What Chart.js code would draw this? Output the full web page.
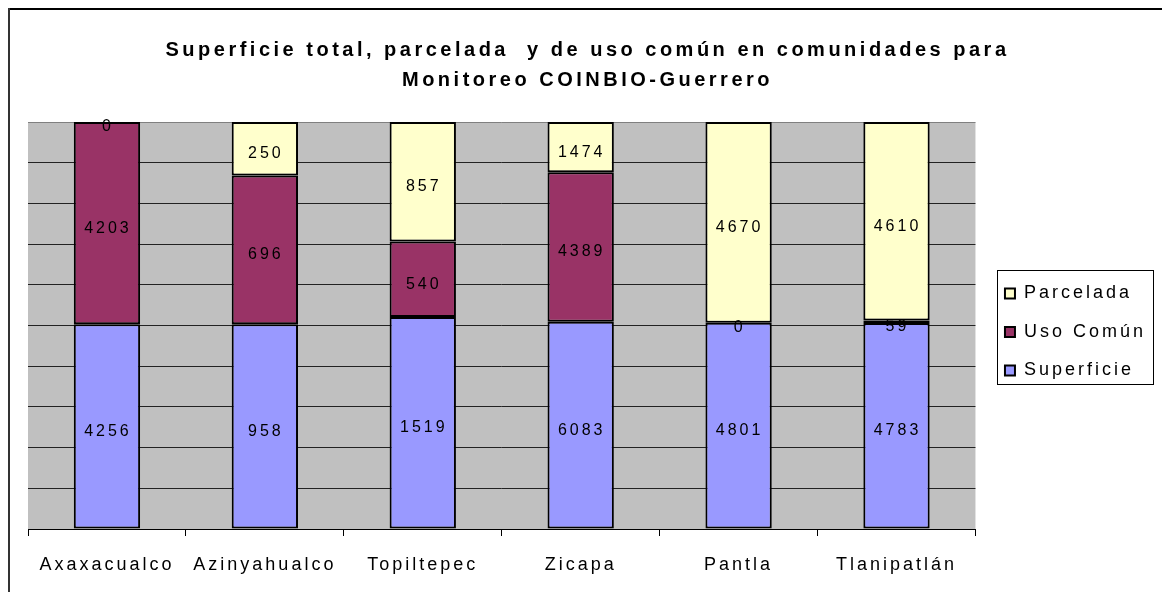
<!DOCTYPE html>
<html>
<head>
<meta charset="utf-8">
<script src="https://cdn.jsdelivr.net/npm/chart.js@4.4.1/dist/chart.umd.min.js"></script>
<style>
  html, body { margin: 0; padding: 0; background: #fff; }
  #wrap { width: 1162px; height: 592px; position: relative; }
</style>
</head>
<body>
<div id="wrap"><canvas id="chart" width="1162" height="592"></canvas></div>
<script>
const comunidades = ['Axaxacualco', 'Azinyahualco', 'Topiltepec', 'Zicapa', 'Pantla', 'Tlanipatlán'];
const superficie = [4256, 958, 1519, 6083, 4801, 4783];
const usoComun = [4203, 696, 540, 4389, 0, 59];
const parcelada = [0, 250, 857, 1474, 4670, 4610];

// 100% apilado: cada columna se reparte sobre su total
const totales = comunidades.map((c, i) => superficie[i] + usoComun[i] + parcelada[i]);
const pct = arr => arr.map((v, i) => v / totales[i] * 100);

const FONT = "'Liberation Sans', Arial, sans-serif";

const spacing = {
  id: 'spacing',
  beforeInit(chart) { chart.ctx.letterSpacing = '3px'; },
  beforeLayout(chart) { chart.ctx.letterSpacing = '3px'; },
  afterLayout(chart) {
    // leyenda un poco más abajo y a la derecha, como en el original
    const lg = chart.legend;
    lg.top += 31; lg.bottom += 31;
    lg.left += 9; lg.right += 9;
    // título algo más espaciado
    const tb = chart.titleBlock;
    if (tb && !tb._wrapped) {
      const draw = tb.draw.bind(tb);
      tb.draw = function () {
        const ctx = chart.ctx;
        ctx.letterSpacing = '3.5px';
        draw();
        ctx.letterSpacing = '3px';
      };
      tb._wrapped = true;
    }
  },
  beforeDraw(chart) {
    const ctx = chart.ctx;
    ctx.letterSpacing = '3px';
    // marco exterior
    ctx.save();
    ctx.fillStyle = '#000';
    ctx.fillRect(8, 8, chart.width, 2);
    ctx.fillStyle = '#333';
    ctx.fillRect(8, 8, 2, chart.height);
    // fondo gris del área de trazado
    const a = chart.chartArea;
    ctx.fillStyle = '#C0C0C0';
    ctx.fillRect(a.left, a.top, a.right - a.left, a.bottom - a.top);
    ctx.restore();
  },
  afterDraw(chart) {
    const lg = chart.legend;
    if (!lg || !lg.legendHitBoxes) return;
    const hb = lg.legendHitBoxes;
    let x0 = Infinity, y0 = Infinity, x1 = -Infinity, y1 = -Infinity;
    hb.forEach(b => {
      x0 = Math.min(x0, b.left); y0 = Math.min(y0, b.top);
      x1 = Math.max(x1, b.left + b.width); y1 = Math.max(y1, b.top + b.height);
    });
    const ctx = chart.ctx;
    ctx.save();
    ctx.strokeStyle = '#000';
    ctx.lineWidth = 1;
    ctx.strokeRect(Math.round(x0 - 8) + 0.5, Math.round(y0 - 15) + 0.5, Math.round(x1 - x0 + 15), Math.round(y1 - y0 + 19));
    ctx.restore();
  }
};

const etiquetas = {
  id: 'etiquetas',
  afterDatasetsDraw(chart) {
    const ctx = chart.ctx;
    const raw = [superficie, usoComun, parcelada];
    ctx.save();
    ctx.font = '16px ' + FONT;
    ctx.fillStyle = '#000';
    ctx.textAlign = 'center';
    ctx.textBaseline = 'middle';
    chart.data.datasets.forEach((ds, di) => {
      chart.getDatasetMeta(di).data.forEach((bar, i) => {
        const y = (bar.y + bar.base) / 2 + 5;
        ctx.fillText(String(raw[di][i]), bar.x + 1, y);
      });
    });
    ctx.restore();
  }
};

new Chart(document.getElementById('chart'), {
  type: 'bar',
  data: {
    labels: comunidades,
    datasets: [
      { label: 'Superficie', data: pct(superficie), backgroundColor: '#9999FF', borderColor: '#000', borderWidth: 2, borderSkipped: false },
      { label: 'Uso Común', data: pct(usoComun), backgroundColor: '#993366', borderColor: '#000', borderWidth: 2, borderSkipped: false },
      { label: 'Parcelada', data: pct(parcelada), backgroundColor: '#FFFFCC', borderColor: '#000', borderWidth: 2, borderSkipped: false }
    ]
  },
  options: {
    responsive: false,
    animation: false,
    layout: { padding: { top: 10, left: 28, right: 15, bottom: 0 } },
    datasets: { bar: { barPercentage: 0.42, categoryPercentage: 1.0 } },
    plugins: {
      title: {
        display: true,
        text: ['Superficie total, parcelada  y de uso común en comunidades para', 'Monitoreo COINBIO-Guerrero'],
        color: '#000',
        font: { family: FONT, size: 20, weight: 'bold', lineHeight: 30 / 20 },
        padding: { top: 25, bottom: 27 }
      },
      legend: {
        position: 'right',
        reverse: true,
        labels: {
          color: '#000',
          font: { family: FONT, size: 18 },
          boxWidth: 10,
          boxHeight: 10,
          padding: 20.5
        }
      },
      tooltip: { enabled: false }
    },
    scales: {
      x: {
        stacked: true,
        afterFit(scale) { scale.height = 63; },
        grid: { display: true, drawOnChartArea: false, drawTicks: true, tickLength: 7, color: '#000', offset: true },
        border: { display: true, color: '#000', width: 1 },
        ticks: { color: '#000', font: { family: FONT, size: 18 }, padding: 18, maxRotation: 0 }
      },
      y: {
        stacked: true,
        min: 0,
        max: 100,
        ticks: { display: false, stepSize: 10 },
        grid: { color: ctx => ctx.tick && ctx.tick.value === 100 ? '#808080' : '#222', drawTicks: false },
        border: { display: false }
      }
    }
  },
  plugins: [spacing, etiquetas]
});
</script>
</body>
</html>
